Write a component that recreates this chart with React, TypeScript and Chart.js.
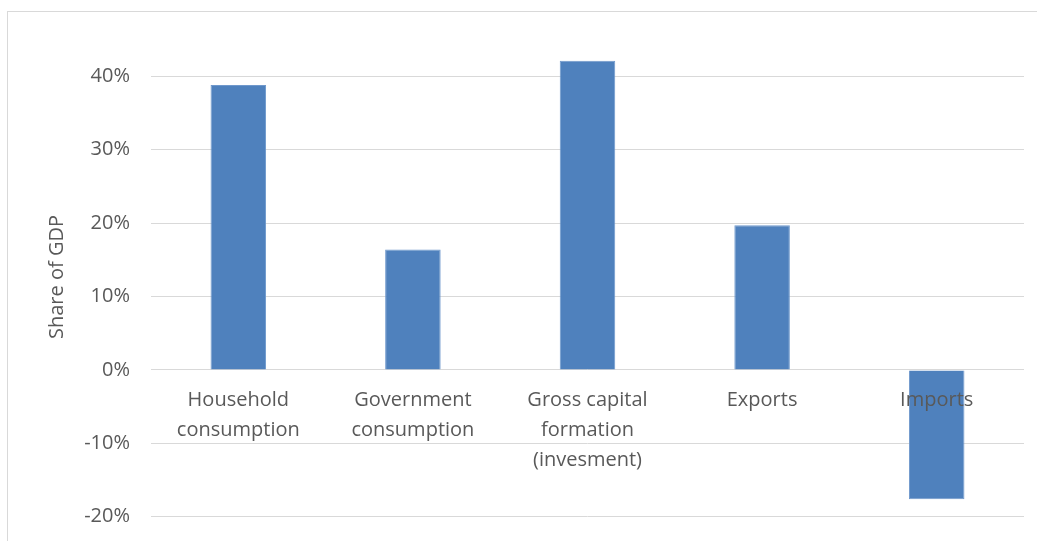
import React, { useEffect, useRef } from "react";
import { Chart, registerables } from "chart.js";

Chart.register(...registerables);

const CATEGORIES: string[][] = [
  ["Household", "consumption"],
  ["Government", "consumption"],
  ["Gross capital", "formation", "(invesment)"],
  ["Exports"],
  ["Imports"],
];
const SHARES: number[] = [0.388, 0.164, 0.421, 0.197, -0.176];
const TICK_VALUES: number[] = [-0.2, -0.1, 0, 0.1, 0.2, 0.3, 0.4];
const Y_MIN = -0.233;
const Y_MAX = 0.486;
const Y_TITLE = "Share of GDP";

const FONT = "'Open Sans', sans-serif";
const TEXT = "#595959";

export default function App() {
  const ref = useRef<HTMLCanvasElement | null>(null);

  useEffect(() => {
    if (!ref.current) return;
    const chart = new Chart(ref.current, {
      type: "bar",
      data: {
        labels: CATEGORIES,
        datasets: [
          {
            data: SHARES,
            backgroundColor: "#4f81bd",
            borderColor: "#6f98cc",
            borderWidth: 1,
            barPercentage: 1,
            categoryPercentage: 0.318,
          },
        ],
      },
      options: {
        responsive: false,
        animation: false,
        layout: { padding: { top: 13, right: 13, left: 0, bottom: 0 } },
        plugins: { legend: { display: false }, tooltip: { enabled: false } },
        scales: {
          x: {
            position: { y: 0 } as any,
            grid: { display: false, drawTicks: false },
            border: { display: false },
            afterFit: (s: any) => {
              s.height = 0;
              s.paddingLeft = 0;
              s.paddingRight = 0;
            },
            ticks: {
              z: 1,
              color: TEXT,
              font: { family: FONT, size: 20, lineHeight: 1.5 },
              padding: 15,
              maxRotation: 0,
              autoSkip: false,
            },
          },
          y: {
            min: Y_MIN,
            max: Y_MAX,
            afterFit: (s: any) => {
              s.width = 151;
              s.paddingTop = 0;
              s.paddingBottom = 0;
            },
            afterBuildTicks: (s: any) => {
              s.ticks = TICK_VALUES.map((v) => ({ value: v }));
            },
            grid: { color: "#d9d9d9", lineWidth: 1, drawTicks: false },
            border: { display: false },
            ticks: {
              color: TEXT,
              font: { family: FONT, size: 20 },
              padding: 21,
              callback: (v: any) => `${Math.round(Number(v) * 100)}%`,
            },
            title: {
              display: true,
              text: Y_TITLE,
              color: TEXT,
              font: { family: FONT, size: 20, lineHeight: 1.2 },
              padding: { top: 45, bottom: 0 },
            },
          },
        },
      },
    });
    return () => chart.destroy();
  }, []);

  return (
    <div
      style={{
        position: "fixed",
        left: 0,
        top: 0,
        width: 1037,
        height: 541,
        overflow: "hidden",
        background: "#fff",
      }}
    >
      <div
        style={{
          position: "absolute",
          left: 7,
          top: 11,
          width: 1100,
          height: 600,
          border: "1px solid #d9d9d9",
        }}
      />
      <canvas
        ref={ref}
        width={1037}
        height={541}
        style={{ position: "absolute", left: 0, top: 0, width: 1037, height: 541 }}
      />
    </div>
  );
}
